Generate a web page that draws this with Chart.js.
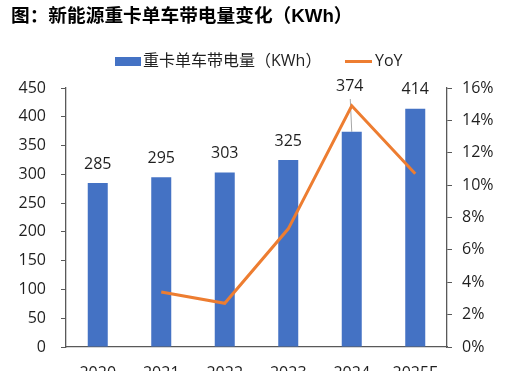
<!DOCTYPE html>
<html><head><meta charset="utf-8">
<script src="https://cdn.jsdelivr.net/npm/chart.js@4.4.1/dist/chart.umd.min.js"></script>
<style>
html,body{margin:0;padding:0;background:#fff;overflow:hidden;}
#wrap{position:absolute;left:0;top:0;width:507px;height:390px;}
</style></head>
<body>
<div id="wrap"><canvas id="c"></canvas></div>
<script>
const titleText = '图：新能源重卡单车带电量变化（KWh）';
const categories = ['2020','2021','2022','2023','2024','2025E'];
const batteryKWh = [285, 295, 303, 325, 374, 414];
const yoyPct = [null, 3.4, 2.7, 7.3, 14.9, 10.7];
const barLabel = '重卡单车带电量（KWh）';
const lineLabel = 'YoY';
const leftTicks = [0, 450, 50];
const rightTicks = [0, 16, 2];

const BLUE = '#4472C4', ORANGE = '#ED7D31', AXIS = '#595959', TXT = '#1f1f1f';
const FONT = '"Open Sans","Noto Sans CJK SC",sans-serif';
const CJK = '"Open Sans","Noto Sans CJK SC",sans-serif';

const decor = {
  id: 'decor',
  beforeDatasetsDraw(chart) {
    // leader line for the 2024 label, behind the marks
    const meta = chart.getDatasetMeta(1);
    const bar = meta.data[4];
    const ctx = chart.ctx;
    ctx.save();
    ctx.strokeStyle = '#A6A6A6';
    ctx.lineWidth = 1;
    ctx.beginPath();
    ctx.moveTo(bar.x - 1.5, 99);
    ctx.lineTo(bar.x, bar.y);
    ctx.stroke();
    ctx.restore();
  },
  afterDatasetsDraw(chart) {
    const ctx = chart.ctx;
    ctx.save();
    const meta = chart.getDatasetMeta(1);
    ctx.font = '16px ' + FONT;
    ctx.fillStyle = TXT;
    ctx.textAlign = 'center';
    ctx.textBaseline = 'middle';
    meta.data.forEach((bar, i) => {
      const v = batteryKWh[i];
      if (i === 4) {
        ctx.fillText(String(v), bar.x - 2, 86);
      } else {
        ctx.fillText(String(v), bar.x, bar.y - 19);
      }
    });
    ctx.restore();
  },
  afterDraw(chart) {
    const ctx = chart.ctx;
    ctx.save();
    ctx.font = 'bold 18.7px "Liberation Sans","Noto Sans CJK SC",sans-serif';
    ctx.fillStyle = '#000';
    ctx.textAlign = 'left';
    ctx.textBaseline = 'middle';
    ctx.fillText(titleText, 11, 17);
    ctx.fillStyle = BLUE;
    ctx.fillRect(115, 57, 26, 9);
    ctx.font = '16px ' + CJK;
    ctx.fillStyle = TXT;
    ctx.fillText(barLabel, 143, 61.5);
    ctx.strokeStyle = ORANGE;
    ctx.lineWidth = 3;
    ctx.beginPath();
    ctx.moveTo(345, 61.5);
    ctx.lineTo(372, 61.5);
    ctx.stroke();
    ctx.fillText(lineLabel, 375, 61.5);
    ctx.restore();
  }
};

new Chart(document.getElementById('c'), {
  data: {
    labels: categories,
    datasets: [
      { type: 'line', label: lineLabel, data: yoyPct, yAxisID: 'y1', borderColor: ORANGE, backgroundColor: ORANGE,
        borderWidth: 3, pointRadius: 0, tension: 0, spanGaps: false, order: 0 },
      { type: 'bar', label: barLabel, data: batteryKWh, yAxisID: 'y', backgroundColor: BLUE,
        categoryPercentage: 1, barPercentage: 0.315, order: 1 }
    ]
  },
  plugins: [decor],
  options: {
    responsive: true, maintainAspectRatio: false, animation: false,
    layout: { padding: { top: 88, bottom: 0, left: 0, right: 0 } },
    plugins: { legend: { display: false }, title: { display: false }, tooltip: { enabled: false } },
    scales: {
      x: {
        offset: true,
        grid: { display: false, drawTicks: false },
        border: { display: true, color: AXIS, width: 1.3 },
        ticks: { color: TXT, font: { family: FONT, size: 16 }, padding: 17, maxRotation: 0 },
        afterFit(s) { s.height = 43; }
      },
      y: {
        position: 'left', min: leftTicks[0], max: leftTicks[1],
        ticks: { stepSize: leftTicks[2], color: TXT, font: { family: FONT, size: 16 }, padding: 15 },
        grid: { drawOnChartArea: false, drawTicks: true, tickLength: 5, color: AXIS },
        border: { display: true, color: AXIS, width: 1.3 },
        afterFit(s) { s.width = 66; }
      },
      y1: {
        position: 'right', min: rightTicks[0], max: rightTicks[1],
        ticks: { stepSize: rightTicks[2], color: TXT, font: { family: FONT, size: 16 }, padding: 10,
                 callback: v => v + '%' },
        grid: { drawOnChartArea: false, drawTicks: true, tickLength: 5, color: AXIS },
        border: { display: true, color: AXIS, width: 1.3 },
        afterFit(s) { s.width = 60; }
      }
    }
  }
});
</script>
</body></html>
